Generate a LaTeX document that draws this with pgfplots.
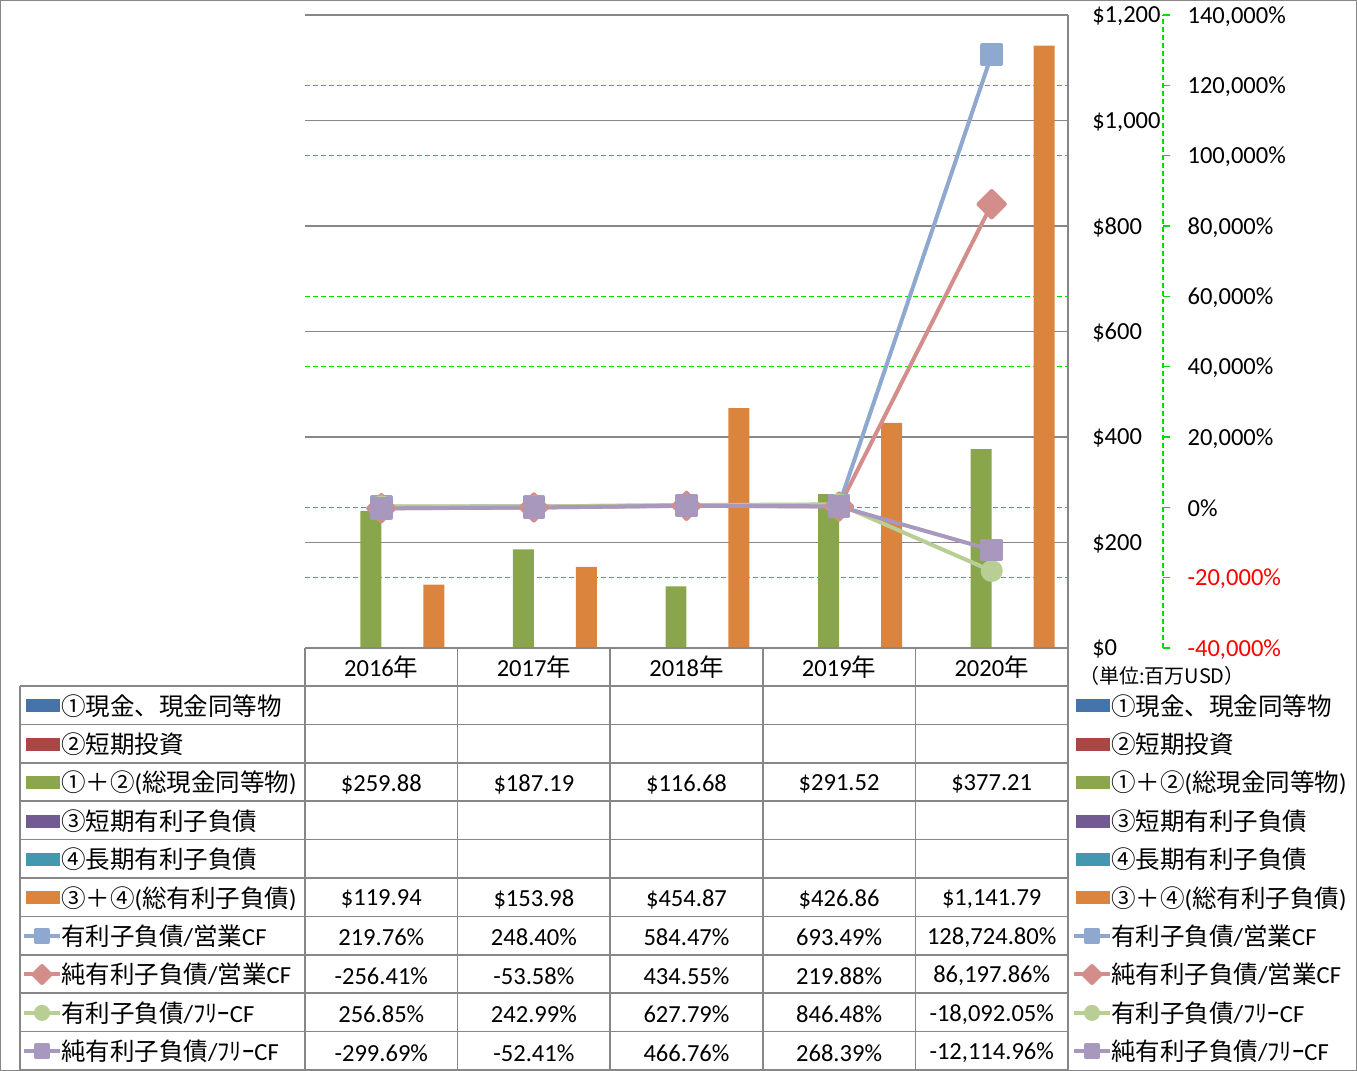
\documentclass[border=0pt]{standalone}
\usepackage{pgfplots}
\pgfplotsset{compat=1.18}
\usepackage{fontspec}
\setmainfont{Carlito}
\newfontfamily\jp{Noto Sans CJK JP}
\newcommand\fs{\fontsize{18.4}{22}\selectfont}
\definecolor{gridgray}{HTML}{878787}
\definecolor{lime}{RGB}{0,220,0}
\definecolor{kblue}{HTML}{4674AA}
\definecolor{kred}{HTML}{AA4644}
\definecolor{kgreen}{HTML}{8BA64F}
\definecolor{kpurple}{HTML}{725A92}
\definecolor{kteal}{HTML}{4398AF}
\definecolor{korange}{HTML}{DB843D}
\definecolor{lblue}{HTML}{8EA8CF}
\definecolor{lpink}{HTML}{D38E8C}
\definecolor{lgreen}{HTML}{B8CE94}
\definecolor{lpurple}{HTML}{A898BE}
\definecolor{barG}{HTML}{8AA64C}
\definecolor{barO}{HTML}{DB843E}
\tikzset{
  s1/.style={lblue, line width=3pt, mark=square*, mark size=7pt, mark options={solid, fill=lblue, line join=round}},
  s2/.style={lpink, line width=3pt, mark=square*, mark size=7pt, mark options={solid, fill=lpink, line join=round, rotate=45}},
  s3/.style={lgreen, line width=3pt, mark=*, mark size=6.75pt, mark options={solid, fill=lgreen}},
  s4/.style={lpurple, line width=3pt, mark=square*, mark size=7pt, mark options={solid, fill=lpurple, line join=round}},
}
\pgfplotsset{
  barkey/.style={legend image code/.code={\fill[#1] (0pt,-4.5pt) rectangle (24.75pt,4.5pt);}},
  linekey/.style={legend image code/.code={\draw[##1,mark size=4.5pt,mark repeat=2,mark phase=2] plot coordinates {(-1.5pt,0pt) (12pt,0pt) (25.5pt,0pt)};}},
  tablelegend/.style={legend style={at={#1}, anchor=north west, draw=none, fill=none, inner sep=0pt, outer sep=0pt, row sep=0pt, column sep=-0.75pt, cells={anchor=west}, nodes={font=\fs, inner sep=0pt, minimum height=28.8pt}}},
}
\newcommand\LA{{\jp ①現金、現金同等物}}
\newcommand\LB{{\jp ②短期投資}}
\newcommand\LC{{\jp ①＋②}({\jp 総現金同等物})}
\newcommand\LD{{\jp ③短期有利子負債}}
\newcommand\LE{{\jp ④長期有利子負債}}
\newcommand\LF{{\jp ③＋④}({\jp 総有利子負債})}
\newcommand\LG{{\jp 有利子負債}/{\jp 営業}CF}
\newcommand\LH{{\jp 純有利子負債}/{\jp 営業}CF}
\newcommand\LI{{\jp 有利子負債}/{\jp ﾌﾘｰ}CF}
\newcommand\LJ{{\jp 純有利子負債}/{\jp ﾌﾘｰ}CF}
\newcommand\cell[3]{\node[font=\fs, inner sep=0pt, anchor=center] at ({305+152.6*(#1-0.5)},{1071-(688+38.4*(#2-0.5))}) {#3};}
\begin{document}
\begin{tikzpicture}[x=0.75pt,y=0.75pt]
% ---------- primary axis (amounts, bars) ----------
\begin{axis}[
  at={(228.75pt,317.25pt)}, anchor=south west, scale only axis,
  width=572.25pt, height=474.75pt,
  xmin=-0.5, xmax=4.5, ymin=0, ymax=1200,
  axis line style={draw=none},
  major tick length=0pt,
  xtick={0,1,2,3,4},
  xticklabels={2016{\jp 年},2017{\jp 年},2018{\jp 年},2019{\jp 年},2020{\jp 年}},
  xticklabel style={anchor=center, yshift=-14.25pt},
  ytick={0,200,...,1200},
  yticklabels={{\$0},{\$200},{\$400},{\$600},{\$800},{\$1,000},{\$1,200}},
  yticklabel pos=right,
  yticklabel style={anchor=west, inner sep=0pt, xshift=18pt, yshift=-1pt},
  ymajorgrids, major grid style={gridgray, line width=1.1pt},
  extra y ticks={133.333,266.667,533.333,666.667,933.333,1066.667},
  extra y tick labels={},
  extra y tick style={major grid style={lime, line width=1pt, dash pattern=on 3.75pt off 2.25pt}},
  tick label style={font=\fs, text=black},
  scaled y ticks=false,
  bar width=0.1376,
  tablelegend={(-0.3709,-0.0608)},
]
\addlegendimage{barkey=kblue}\addlegendentry{\LA}
\addlegendimage{barkey=kred}\addlegendentry{\LB}
\addlegendimage{barkey=kgreen}\addlegendentry{\LC}
\addlegendimage{barkey=kpurple}\addlegendentry{\LD}
\addlegendimage{barkey=kteal}\addlegendentry{\LE}
\addlegendimage{barkey=korange}\addlegendentry{\LF}
\addlegendimage{s1,linekey}\addlegendentry{\LG}
\addlegendimage{s2,linekey}\addlegendentry{\LH}
\addlegendimage{s3,linekey}\addlegendentry{\LI}
\addlegendimage{s4,linekey}\addlegendentry{\LJ}
% (1)+(2) total cash
\addplot[ybar, bar shift=-0.0688, fill=barG, draw=none, forget plot] coordinates {(0,259.88) (1,187.19) (2,116.68) (3,291.52) (4,377.21)};
% (3)+(4) total interest-bearing debt
\addplot[ybar, bar shift=0.344, fill=barO, draw=none, forget plot] coordinates {(0,119.94) (1,153.98) (2,454.87) (3,426.86) (4,1141.79)};
\end{axis}
% ---------- secondary axis (ratios, lines) ----------
\begin{axis}[
  at={(228.75pt,317.25pt)}, anchor=south west, scale only axis,
  width=643.5pt, height=474.75pt,
  xmin=-0.5, xmax=5.1225, ymin=-40000, ymax=140000,
  axis x line=none, axis y line*=right,
  every outer y axis line/.append style={-},
  y axis line style={lime, line width=1pt, dash pattern=on 3.75pt off 2.25pt, -},
  ytick={-40000,-20000,...,140000},
  yticklabels={{\color{red}-40,000\%},{\color{red}-20,000\%},{0\%},{20,000\%},{40,000\%},{60,000\%},{80,000\%},{100,000\%},{120,000\%},{140,000\%}},
  scaled y ticks=false,
  tick align=outside, major tick length=5.25pt,
  ytick style={lime, line width=1pt},
  yticklabel style={anchor=west, inner sep=0pt, xshift=13pt, yshift=-1pt, font=\fs},
  clip=false,
  tablelegend={(0.89394,-0.0608)},
]
\addlegendimage{barkey=kblue}\addlegendentry{\LA}
\addlegendimage{barkey=kred}\addlegendentry{\LB}
\addlegendimage{barkey=kgreen}\addlegendentry{\LC}
\addlegendimage{barkey=kpurple}\addlegendentry{\LD}
\addlegendimage{barkey=kteal}\addlegendentry{\LE}
\addlegendimage{barkey=korange}\addlegendentry{\LF}
\addplot[s1,linekey] coordinates {(0,219.76) (1,248.40) (2,584.47) (3,693.49) (4,128724.80)};
\addlegendentry{\LG}
\addplot[s2,linekey] coordinates {(0,-256.41) (1,-53.58) (2,434.55) (3,219.88) (4,86197.86)};
\addlegendentry{\LH}
\addplot[s3,linekey] coordinates {(0,256.85) (1,242.99) (2,627.79) (3,846.48) (4,-18092.05)};
\addlegendentry{\LI}
\addplot[s4,linekey] coordinates {(0,-299.69) (1,-52.41) (2,466.76) (3,268.39) (4,-12114.96)};
\addlegendentry{\LJ}
\end{axis}
% ---------- data table grid ----------
\begin{scope}[gridgray, line width=1.1pt]
\draw (305,1071-648) -- (1068,1071-648);
\foreach \yy in {686,724.4,762.8,801.2,839.6,878,916.4,954.8,993.2,1031.6,1070} \draw (20,1071-\yy) -- (1068,1071-\yy);
\foreach \xx in {305,457.6,610.2,762.8,915.4} \draw (\xx,1071-648) -- (\xx,1071-1070);
\draw (1068,1071-15) -- (1068,1071-1070);
\draw (20,1071-686) -- (20,1071-1070);
\end{scope}
\draw[gridgray, line width=1pt] (0.5,0.5) rectangle (1356.5,1070.5);
% ---------- table values ----------
\cell{1}{3}{\$259.88}\cell{2}{3}{\$187.19}\cell{3}{3}{\$116.68}\cell{4}{3}{\$291.52}\cell{5}{3}{\$377.21}
\cell{1}{6}{\$119.94}\cell{2}{6}{\$153.98}\cell{3}{6}{\$454.87}\cell{4}{6}{\$426.86}\cell{5}{6}{\$1,141.79}
\cell{1}{7}{219.76\%}\cell{2}{7}{248.40\%}\cell{3}{7}{584.47\%}\cell{4}{7}{693.49\%}\cell{5}{7}{128,724.80\%}
\cell{1}{8}{-256.41\%}\cell{2}{8}{-53.58\%}\cell{3}{8}{434.55\%}\cell{4}{8}{219.88\%}\cell{5}{8}{86,197.86\%}
\cell{1}{9}{256.85\%}\cell{2}{9}{242.99\%}\cell{3}{9}{627.79\%}\cell{4}{9}{846.48\%}\cell{5}{9}{-18,092.05\%}
\cell{1}{10}{-299.69\%}\cell{2}{10}{-52.41\%}\cell{3}{10}{466.76\%}\cell{4}{10}{268.39\%}\cell{5}{10}{-12,114.96\%}
\node[font={\jp\fontsize{15}{17}\selectfont}] at (1162,1071-676) {（単位:百万USD）};
\pgfresetboundingbox
\useasboundingbox (0,0) rectangle (1357,1071);
\end{tikzpicture}
\end{document}
